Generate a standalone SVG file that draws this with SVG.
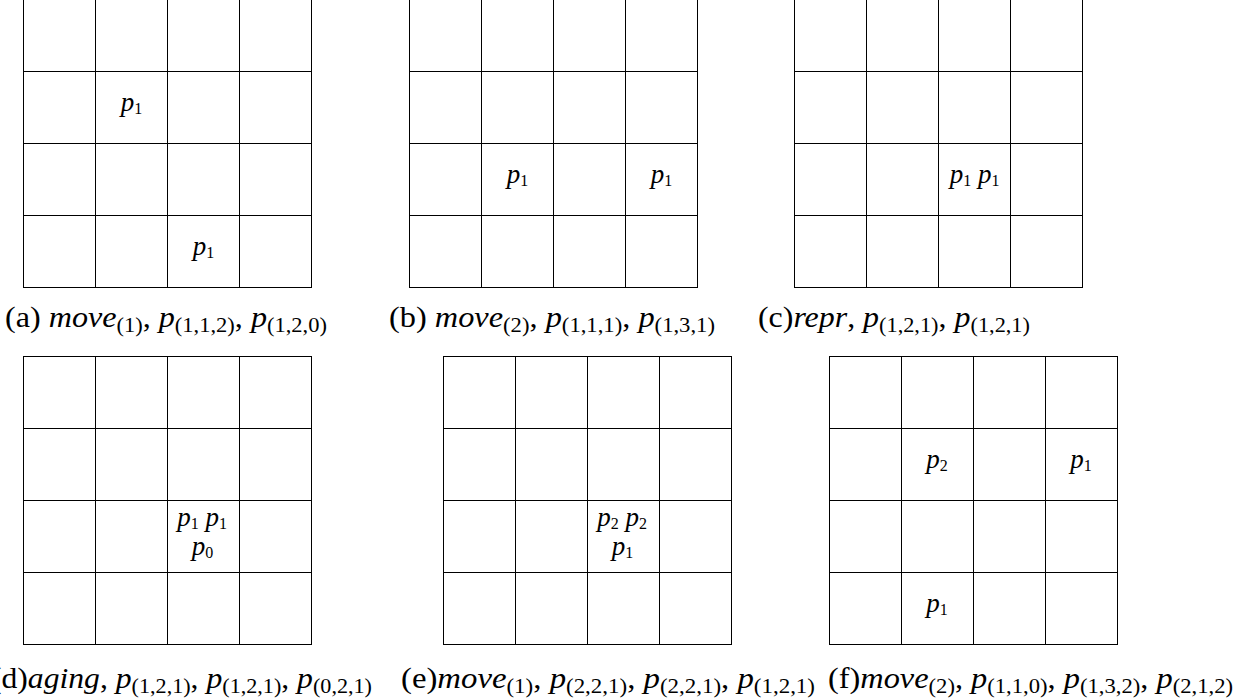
<svg xmlns="http://www.w3.org/2000/svg" xmlns:xlink="http://www.w3.org/1999/xlink" width="1251" height="698" viewBox="0 0 1251 698">
<style>
.g line,.g rect{stroke:#000;stroke-width:1;fill:none}
text{font-family:"Liberation Serif","Times New Roman",serif;fill:#000}
.cap{font-size:30px}
.i{font-style:italic}
.s{font-size:21px;font-style:normal}
.lbl{font-size:27px;font-style:italic;text-anchor:middle}
.ls{font-size:16px;font-style:normal}
</style>
<defs>
<g id="grid" class="g">
<rect x="0" y="0" width="288" height="288"/>
<line x1="72" y1="0" x2="72" y2="288"/>
<line x1="144" y1="0" x2="144" y2="288"/>
<line x1="216" y1="0" x2="216" y2="288"/>
<line x1="0" y1="72" x2="288" y2="72"/>
<line x1="0" y1="144" x2="288" y2="144"/>
<line x1="0" y1="216" x2="288" y2="216"/>
</g>
</defs>
<rect width="1251" height="698" fill="#fff"/>

<g id="panel-a">
<use xlink:href="#grid" href="#grid" x="23.5" y="-0.5"/>
<text class="lbl" x="131.5" y="111">p<tspan class="ls" dy="3">1</tspan></text>
<text class="lbl" x="203.5" y="255">p<tspan class="ls" dy="3">1</tspan></text>
<text class="cap" x="5" y="327" textLength="322" lengthAdjust="spacingAndGlyphs">(a) <tspan class="i">move</tspan><tspan class="s" dy="5">(1)</tspan><tspan dy="-5">, </tspan><tspan class="i">p</tspan><tspan class="s" dy="5">(1,1,2)</tspan><tspan dy="-5">, </tspan><tspan class="i">p</tspan><tspan class="s" dy="5">(1,2,0)</tspan></text>
</g>

<g id="panel-b">
<use xlink:href="#grid" href="#grid" x="409.5" y="-0.5"/>
<text class="lbl" x="517.5" y="183">p<tspan class="ls" dy="3">1</tspan></text>
<text class="lbl" x="661.5" y="183">p<tspan class="ls" dy="3">1</tspan></text>
<text class="cap" x="389" y="327" textLength="326" lengthAdjust="spacingAndGlyphs">(b) <tspan class="i">move</tspan><tspan class="s" dy="5">(2)</tspan><tspan dy="-5">, </tspan><tspan class="i">p</tspan><tspan class="s" dy="5">(1,1,1)</tspan><tspan dy="-5">, </tspan><tspan class="i">p</tspan><tspan class="s" dy="5">(1,3,1)</tspan></text>
</g>

<g id="panel-c">
<use xlink:href="#grid" href="#grid" x="794.5" y="-0.5"/>
<text class="lbl" x="974.5" y="183">p<tspan class="ls" dy="3">1</tspan><tspan dy="-3"> p</tspan><tspan class="ls" dy="3">1</tspan></text>
<text class="cap" x="758" y="327" textLength="272" lengthAdjust="spacingAndGlyphs">(c)<tspan class="i">repr</tspan>, <tspan class="i">p</tspan><tspan class="s" dy="5">(1,2,1)</tspan><tspan dy="-5">, </tspan><tspan class="i">p</tspan><tspan class="s" dy="5">(1,2,1)</tspan></text>
</g>

<g id="panel-d">
<use xlink:href="#grid" href="#grid" x="23.5" y="356.5"/>
<text class="lbl" x="202" y="526">p<tspan class="ls" dy="3">1</tspan><tspan dy="-3"> p</tspan><tspan class="ls" dy="3">1</tspan></text>
<text class="lbl" x="202.5" y="555">p<tspan class="ls" dy="3">0</tspan></text>
<text class="cap" x="-9" y="688" textLength="381" lengthAdjust="spacingAndGlyphs">(d)<tspan class="i">aging</tspan>, <tspan class="i">p</tspan><tspan class="s" dy="5">(1,2,1)</tspan><tspan dy="-5">, </tspan><tspan class="i">p</tspan><tspan class="s" dy="5">(1,2,1)</tspan><tspan dy="-5">, </tspan><tspan class="i">p</tspan><tspan class="s" dy="5">(0,2,1)</tspan></text>
</g>

<g id="panel-e">
<use xlink:href="#grid" href="#grid" x="443.5" y="356.5"/>
<text class="lbl" x="622" y="526">p<tspan class="ls" dy="3">2</tspan><tspan dy="-3"> p</tspan><tspan class="ls" dy="3">2</tspan></text>
<text class="lbl" x="622.5" y="555">p<tspan class="ls" dy="3">1</tspan></text>
<text class="cap" x="401" y="688" textLength="414" lengthAdjust="spacingAndGlyphs">(e)<tspan class="i">move</tspan><tspan class="s" dy="5">(1)</tspan><tspan dy="-5">, </tspan><tspan class="i">p</tspan><tspan class="s" dy="5">(2,2,1)</tspan><tspan dy="-5">, </tspan><tspan class="i">p</tspan><tspan class="s" dy="5">(2,2,1)</tspan><tspan dy="-5">, </tspan><tspan class="i">p</tspan><tspan class="s" dy="5">(1,2,1)</tspan></text>
</g>

<g id="panel-f">
<use xlink:href="#grid" href="#grid" x="829.5" y="356.5"/>
<text class="lbl" x="937" y="468">p<tspan class="ls" dy="3">2</tspan></text>
<text class="lbl" x="1081" y="468">p<tspan class="ls" dy="3">1</tspan></text>
<text class="lbl" x="937" y="612">p<tspan class="ls" dy="3">1</tspan></text>
<text class="cap" x="828" y="688" textLength="405" lengthAdjust="spacingAndGlyphs">(f)<tspan class="i">move</tspan><tspan class="s" dy="5">(2)</tspan><tspan dy="-5">, </tspan><tspan class="i">p</tspan><tspan class="s" dy="5">(1,1,0)</tspan><tspan dy="-5">, </tspan><tspan class="i">p</tspan><tspan class="s" dy="5">(1,3,2)</tspan><tspan dy="-5">, </tspan><tspan class="i">p</tspan><tspan class="s" dy="5">(2,1,2)</tspan></text>
</g>

<g id="connectors"></g>
</svg>
